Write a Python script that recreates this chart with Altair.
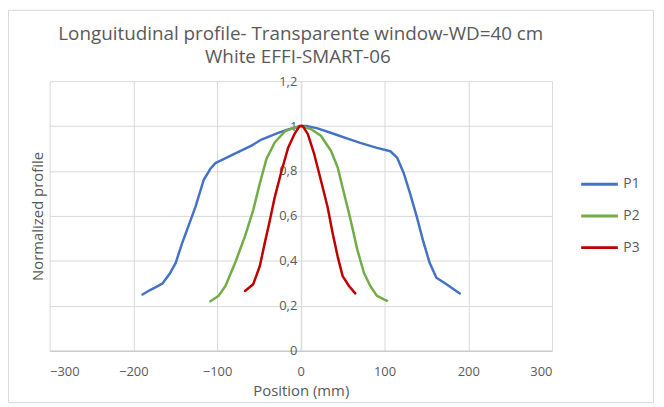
import altair as alt
import pandas as pd

title_lines = ["Longuitudinal profile- Transparente window-WD=40 cm", "White EFFI-SMART-06"]
x_title = "Position (mm)"
y_title = "Normalized profile"
series_names = ["P1", "P2", "P3"]
series_colors = ["#4472C4", "#70AD47", "#C00000"]
x_ticks = [-300, -200, -100, 0, 100, 200, 300]
y_ticks = [0, 0.2, 0.4, 0.6, 0.8, 1.0, 1.2]

p1_pos = [-189, -180, -172, -165, -157, -149.5, -141.6, -131.7, -125.8, -116, -108, -102,
          -80, -58.8, -47, -27, -15, 0, 8, 20, 40, 55, 71, 91, 107, 115, 123, 130.5, 138.5,
          146, 154, 162, 174, 186, 190]
p1_val = [0.25, 0.27, 0.285, 0.30, 0.34, 0.39, 0.48, 0.58, 0.64, 0.76, 0.81, 0.835,
          0.875, 0.913, 0.94, 0.97, 0.985, 1.0, 1.0, 0.99, 0.965, 0.945, 0.925, 0.903, 0.888,
          0.86, 0.79, 0.70, 0.597, 0.49, 0.39, 0.325, 0.296, 0.265, 0.255]

p2_pos = [-108, -98, -90, -78.5, -66.6, -56.8, -49, -41, -31, -19, -7.5, 0, 12, 24, 36,
          44, 51.7, 59.5, 67.5, 75.4, 83, 91, 103]
p2_val = [0.22, 0.245, 0.288, 0.39, 0.51, 0.626, 0.744, 0.854, 0.928, 0.976, 0.994, 1.0,
          0.987, 0.957, 0.89, 0.817, 0.70, 0.582, 0.45, 0.347, 0.288, 0.244, 0.222]

p3_pos = [-66.6, -56.8, -49, -43, -37, -31, -23, -15, -7.5, -1.5, 2.4, 8.3, 16, 24, 32,
          38, 44, 50, 57.6, 65]
p3_val = [0.266, 0.296, 0.376, 0.48, 0.58, 0.685, 0.80, 0.905, 0.965, 1.0, 1.0, 0.965,
          0.876, 0.759, 0.64, 0.524, 0.42, 0.332, 0.288, 0.255]

rows = []
for name, xs, ys in zip(series_names, [p1_pos, p2_pos, p3_pos], [p1_val, p2_val, p3_val]):
    for i, (a, b) in enumerate(zip(xs, ys)):
        rows.append({"series": name, "pos": a, "val": b, "order": i})
df = pd.DataFrame(rows)

FONT = "Open Sans"
GRAY = "#595959"

lines = alt.Chart(df).mark_line(strokeWidth=2.5, strokeCap="round", strokeJoin="round").encode(
    x=alt.X("pos:Q", scale=alt.Scale(domain=[-300, 300], nice=False),
            axis=alt.Axis(values=x_ticks, title=x_title, grid=True, gridColor="#d9d9d9",
                          domainColor="#bfbfbf", ticks=False, labelPadding=15,
                          labelFontSize=13, labelColor=GRAY, labelFont=FONT,
                          titleFontSize=15, titleColor=GRAY, titleFont=FONT,
                          titleFontWeight="normal", titlePadding=5)),
    y=alt.Y("val:Q", scale=alt.Scale(domain=[0, 1.2], nice=False),
            axis=alt.Axis(values=y_ticks, title=y_title, offset=-253.5, grid=True,
                          gridColor="#d9d9d9", domainColor="#d9d9d9", ticks=False,
                          labelPadding=4, labelFontSize=13, labelColor=GRAY, labelFont=FONT,
                          labelExpr="replace(format(datum.value, '~g'), '.', ',')",
                          titleFontSize=15, titleColor=GRAY, titleFont=FONT,
                          titleFontWeight="normal", titleX=-266, titleY=136,
                          titleAngle=-90, titleBaseline="middle", titleAlign="center")),
    color=alt.Color("series:N", scale=alt.Scale(domain=series_names, range=series_colors),
                    legend=alt.Legend(title=None, orient="none", legendX=535, legendY=84,
                                      symbolType="stroke", symbolSize=1369,
                                      symbolStrokeWidth=3, labelFontSize=14,
                                      labelColor=GRAY, labelFont=FONT, rowPadding=5)),
    order="order:Q",
)

one = pd.DataFrame({"a": [0]})

border = alt.Chart(one).mark_rect(
    filled=False, stroke="#d9d9d9", strokeWidth=1
).encode(x=alt.value(-41.5), x2=alt.value(609.5), y=alt.value(-71.5), y2=alt.value(324.5))

title1 = alt.Chart(one).mark_text(
    font=FONT, fontSize=19, color=GRAY, align="center", baseline="alphabetic"
).encode(x=alt.value(253.5), y=alt.value(-42), text=alt.value(title_lines[0]))

title2 = alt.Chart(one).mark_text(
    font=FONT, fontSize=19, color=GRAY, align="center", baseline="alphabetic"
).encode(x=alt.value(250.5), y=alt.value(-18), text=alt.value(title_lines[1]))

chart = alt.layer(border, lines, title1, title2).properties(
    width=507, height=272,
    autosize=alt.AutoSizeParams(type="none"),
    padding={"left": 42, "top": 72, "right": 105, "bottom": 56},
).configure_view(stroke=None)

chart.save("out.html", embed_options={"renderer": "svg", "actions": False})
